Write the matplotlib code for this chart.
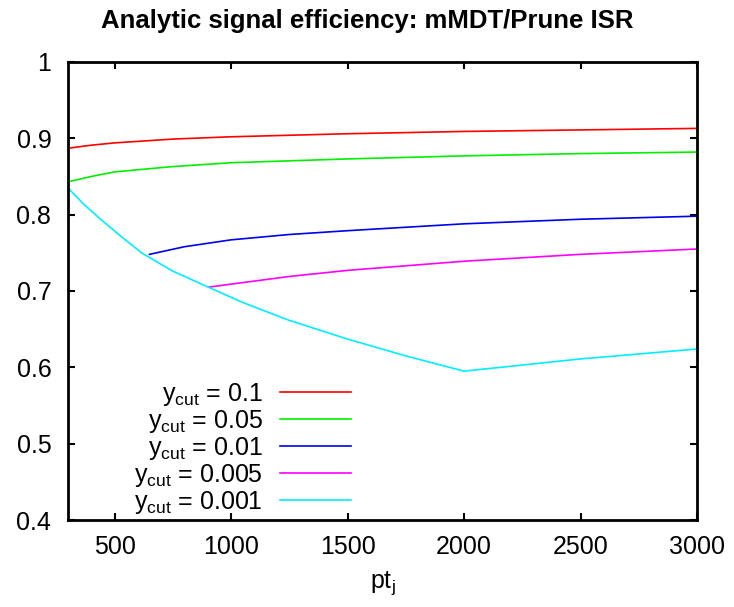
import matplotlib
matplotlib.use("Agg")
import matplotlib.pyplot as plt

plt.rcParams['font.family'] = ['Liberation Sans', 'DejaVu Sans']
plt.rcParams['mathtext.fontset'] = 'custom'
plt.rcParams['mathtext.rm'] = 'Liberation Sans'
plt.rcParams['mathtext.default'] = 'regular'

# данные
red_x = [300, 400, 500, 750, 1000, 1500, 2000, 2500, 3000]
red_y = [0.887, 0.891, 0.894, 0.899, 0.902, 0.906, 0.909, 0.911, 0.913]
green_x = [300, 400, 500, 750, 1000, 1500, 2000, 2500, 3000]
green_y = [0.843, 0.850, 0.856, 0.863, 0.868, 0.873, 0.877, 0.880, 0.882]
blue_x = [650, 800, 1000, 1250, 1500, 2000, 2500, 3000]
blue_y = [0.748, 0.758, 0.767, 0.774, 0.779, 0.788, 0.794, 0.798]
magenta_x = [903, 1000, 1250, 1500, 2000, 2500, 3000]
magenta_y = [0.705, 0.709, 0.719, 0.727, 0.739, 0.748, 0.755]
cyan_x = [300, 370, 444, 530, 616, 750, 903, 1050, 1246, 1500, 1750, 2000, 2500, 3000]
cyan_y = [0.835, 0.813, 0.793, 0.771, 0.750, 0.726, 0.705, 0.685, 0.662, 0.637, 0.615, 0.595, 0.611, 0.624]

labels = ['0.1', '0.05', '0.01', '0.005', '0.001']

fig = plt.figure(figsize=(7.34, 6.07), dpi=100)
ax = fig.add_axes([0.0926, 0.1433, 0.857, 0.7546])

lw = 1.2
ax.plot(red_x, red_y, color='#ff0000', lw=lw, label='y$_{cut}$ = ' + labels[0])
ax.plot(green_x, green_y, color='#00f000', lw=lw, label='y$_{cut}$ = ' + labels[1])
ax.plot(blue_x, blue_y, color='#0000ee', lw=lw, label='y$_{cut}$ = ' + labels[2])
ax.plot(magenta_x, magenta_y, color='#ff00ff', lw=lw, label='y$_{cut}$ = ' + labels[3])
ax.plot(cyan_x, cyan_y, color='#00eeff', lw=lw, label='y$_{cut}$ = ' + labels[4])

ax.set_xlim(300, 3000)
ax.set_ylim(0.4, 1.0)
ax.set_xticks([500, 1000, 1500, 2000, 2500, 3000])
ax.set_yticks([0.4, 0.5, 0.6, 0.7, 0.8, 0.9, 1.0])
ax.set_yticklabels(['0.4', '0.5', '0.6', '0.7', '0.8', '0.9', '1'])
ax.tick_params(direction='in', top=True, right=True, length=5, width=1.5,
               labelsize=18)
ax.tick_params(axis='y', pad=12)
ax.tick_params(axis='x', pad=11)
for s in ax.spines.values():
    s.set_linewidth(2)

ax.set_xlabel('pt$_j$', fontsize=18, labelpad=7)
fig.suptitle('Analytic signal efficiency: mMDT/Prune ISR', fontsize=18.5,
             fontweight='bold', y=0.985)

ax.legend(loc='lower right', bbox_to_anchor=(0.466, -0.013), markerfirst=False,
          frameon=False, fontsize=18, handlelength=2.85, handletextpad=0.7,
          labelspacing=0.0, borderaxespad=0.0)

fig.savefig('out.png', dpi=100)
